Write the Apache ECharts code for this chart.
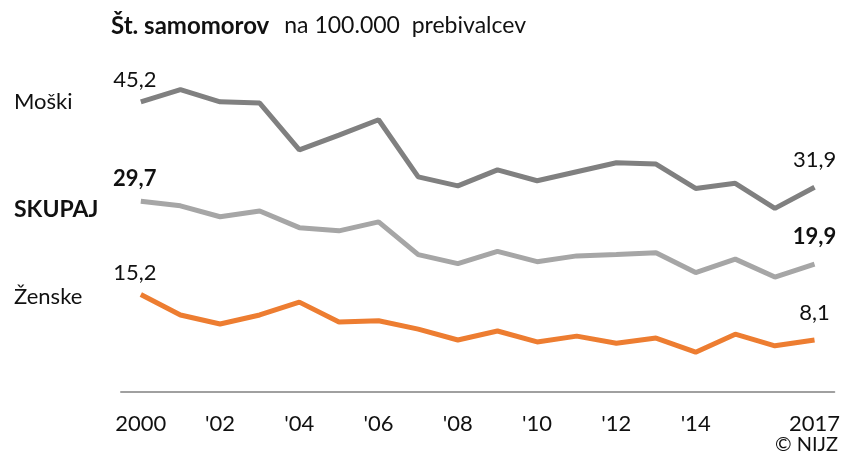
<!DOCTYPE html>
<html>
<head>
<meta charset="utf-8">
<script src="https://cdn.jsdelivr.net/npm/echarts@6/dist/echarts.min.js"></script>
<style>
  html, body { margin: 0; padding: 0; background: #fff; }
  #main { width: 843px; height: 459px; }
</style>
</head>
<body>
<div id="main"></div>
<script>
// leta in vrednosti (na 100.000 prebivalcev)
var years = ['2000', '2001', '2002', '2003', '2004', '2005', '2006', '2007', '2008',
  '2009', '2010', '2011', '2012', '2013', '2014', '2015', '2016', '2017'];
var yearLabels = ['2000', '', "'02", '', "'04", '', "'06", '', "'08",
  '', "'10", '', "'12", '', "'14", '', '', '2017'];
var moski = [45.2, 47.1, 45.2, 45.0, 37.7, 40.0, 42.4, 33.5, 32.1, 34.6, 32.9, 34.3, 35.7, 35.5, 31.7, 32.5, 28.6, 31.9];
var skupaj = [29.7, 29.0, 27.3, 28.2, 25.6, 25.1, 26.5, 21.4, 20.0, 21.9, 20.3, 21.2, 21.4, 21.7, 18.6, 20.7, 17.9, 19.9];
var zenske = [15.2, 12.0, 10.6, 12.0, 14.0, 10.9, 11.1, 9.8, 8.1, 9.5, 7.8, 8.7, 7.6, 8.4, 6.2, 9.0, 7.2, 8.1];

var FONT = 'Lato';

// samo prva in zadnja tocka dobita oznako
function withEndLabels(arr, bold) {
  return arr.map(function (v, i) {
    if (i !== 0 && i !== arr.length - 1) return v;
    return {
      value: v,
      label: {
        show: true,
        position: 'top',
        distance: i === 0 ? 11 : 16,
        offset: i === 0 ? [-6, 0] : [0, 0],
        fontFamily: FONT,
        fontSize: 22,
        fontWeight: bold ? 'bold' : 'normal',
        color: '#111',
        formatter: function (p) { return p.value.toFixed(1).replace('.', ','); }
      }
    };
  });
}

function lineSeries(name, arr, color, bold) {
  return {
    name: name,
    type: 'line',
    data: withEndLabels(arr, bold),
    symbol: 'circle',
    symbolSize: 0,
    showSymbol: true,
    lineStyle: { color: color, width: 5 },
    itemStyle: { color: color },
    silent: true,
    animation: false
  };
}

var myChart = echarts.init(document.getElementById('main'));
myChart.setOption({
  backgroundColor: '#fff',
  title: {
    text: '{b|Št. samomorov}   {r|na 100.000  prebivalcev}',
    left: 106,
    top: 9,
    textStyle: {
      rich: {
        b: { fontFamily: FONT, fontSize: 24, fontWeight: 'bold', color: '#111' },
        r: { fontFamily: FONT, fontSize: 23, fontWeight: 'normal', color: '#111' }
      }
    }
  },
  grid: { left: 121, right: 7, top: 71, bottom: 67 },
  xAxis: {
    type: 'category',
    data: years,
    boundaryGap: true,
    axisLine: { show: true, lineStyle: { color: '#a0a0a0', width: 2 } },
    axisTick: { show: false },
    axisLabel: {
      interval: 0,
      margin: 21,
      fontFamily: FONT,
      fontSize: 22,
      color: '#111',
      formatter: function (v, i) { return yearLabels[i]; }
    }
  },
  yAxis: {
    type: 'value',
    min: 0,
    max: 50,
    show: false,
    splitLine: { show: false }
  },
  graphic: [
    { type: 'text', left: 14, top: 91, style: { text: 'Moški', fontFamily: FONT, fontSize: 22, fill: '#111' } },
    { type: 'text', left: 14, top: 198, style: { text: 'SKUPAJ', fontFamily: FONT, fontSize: 23, fontWeight: 'bold', fill: '#111' } },
    { type: 'text', left: 14, top: 286, style: { text: 'Ženske', fontFamily: FONT, fontSize: 22, fill: '#111' } },
    { type: 'text', right: 5, top: 435, style: { text: '© NIJZ', fontFamily: FONT, fontSize: 20, fill: '#111' } }
  ],
  series: [
    lineSeries('Moški', moski, '#808080', false),
    lineSeries('SKUPAJ', skupaj, '#a6a6a6', true),
    lineSeries('Ženske', zenske, '#ed7d31', false)
  ]
});
</script>
</body>
</html>
